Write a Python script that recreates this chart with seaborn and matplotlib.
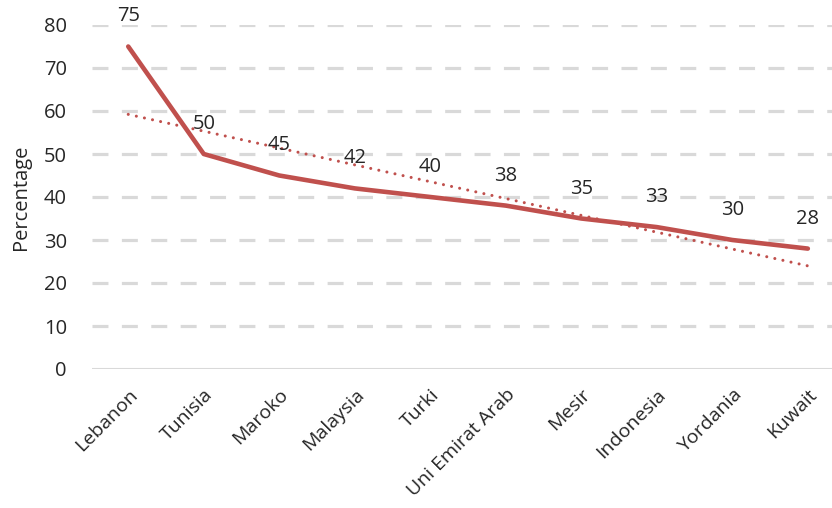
import numpy as np
import pandas as pd
import matplotlib.pyplot as plt
import seaborn as sns

countries = ['Lebanon', 'Tunisia', 'Maroko', 'Malaysia', 'Turki',
             'Uni Emirat Arab', 'Mesir', 'Indonesia', 'Yordania', 'Kuwait']
values = [75, 50, 45, 42, 40, 38, 35, 33, 30, 28]

sns.set_style('white')
plt.rcParams['font.family'] = ['Open Sans', 'DejaVu Sans']

df = pd.DataFrame({'country': countries, 'value': values, 'idx': range(len(countries))})

# linear trendline like Excel
slope, intercept = np.polyfit(df['idx'], df['value'], 1)
df['trend'] = intercept + slope * df['idx']

fig = plt.figure(figsize=(8.32, 5.08), dpi=100)
ax = fig.add_axes([92 / 832, 139 / 508, 740 / 832, 344 / 508])

red = '#C0504D'
fs = 14.5
sns.lineplot(data=df, x='idx', y='value', color=red, linewidth=3.3, ax=ax)
sns.lineplot(data=df, x='idx', y='trend', color=red, linewidth=2.2,
             linestyle=(0, (0.01, 2.7)), dash_capstyle='round', ax=ax)

for i, v in zip(df['idx'], df['value']):
    ax.annotate(str(v), (i, v), xytext=(0, 30), textcoords='offset pixels',
                ha='center', va='center', fontsize=fs, clip_on=False)

ax.set_xlim(-0.48, 9.32)
ax.set_ylim(0, 80)
ax.set_yticks(range(0, 81, 10))
ax.set_xticks(df['idx'])
ax.set_xticklabels(countries, rotation=45, ha='right', rotation_mode='anchor', fontsize=14)
ax.tick_params(axis='y', labelsize=fs, length=0, pad=18)
ax.tick_params(axis='x', length=0, pad=12)
ax.set_xlabel('')
ax.set_ylabel('Percentage', fontsize=fs, labelpad=9)

for y in range(10, 81, 10):
    ax.axhline(y, color='#D9D9D9', linewidth=2.3, linestyle=(0, (5, 4.2)), zorder=0)
ax.axhline(0, color='#D9D9D9', linewidth=1.5, zorder=0)

for s in ax.spines.values():
    s.set_visible(False)

fig.savefig('out.png', dpi=100)
